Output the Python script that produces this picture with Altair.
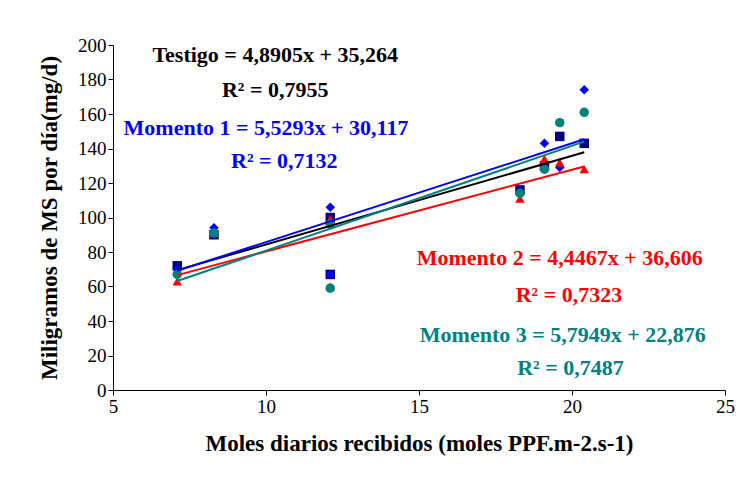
import altair as alt
import pandas as pd

# readings from the figure
x_vals = [7.1, 8.3, 12.1, 12.1, 18.3, 19.1, 19.6, 20.4]
testigo = [72, 90, 100, 67, 116, 130, 147, 143]
momento1 = [70, 94, 106, 67, 115, 143, 129, 174]
momento2 = [63, 91, 99, 60, 111, 134, 132, 128]
momento3 = [67, 91, 96, 59, 114, 128, 155, 161]

series = ['Testigo', 'Momento 1', 'Momento 2', 'Momento 3']
colors = ['#000080', '#0000FF', '#FF0000', '#008080']
line_colors = ['#000000', '#0000FF', '#FF0000', '#008080']
shapes = ['square', 'diamond', 'triangle-up', 'circle']

rows = []
for name, vals in zip(series, [testigo, momento1, momento2, momento3]):
    for x, y in zip(x_vals, vals):
        rows.append({'serie': name, 'x': x, 'y': y})
df = pd.DataFrame(rows)

labels = pd.DataFrame({
    'x': [10.3, 10.3, 10.0, 10.6, 19.6, 19.9, 19.7, 19.95],
    'y': [194, 174, 152, 133, 76.5, 55, 32, 13],
    'txt': ['Testigo  = 4,8905x + 35,264', 'R² = 0,7955',
            'Momento 1 = 5,5293x + 30,117', 'R² = 0,7132',
            'Momento 2 = 4,4467x + 36,606', 'R² = 0,7323',
            'Momento 3 = 5,7949x + 22,876', 'R² = 0,7487'],
    'serie': ['Testigo', 'Testigo', 'Momento 1', 'Momento 1',
              'Momento 2', 'Momento 2', 'Momento 3', 'Momento 3'],
})

xs = alt.X('x:Q', scale=alt.Scale(domain=[5, 25], nice=False, zero=False, padding=0),
           axis=alt.Axis(values=[5, 10, 15, 20, 25], grid=False, tickSize=5,
                         labelOverlap=False, labelFlush=False),
           title='Moles diarios recibidos (moles PPF.m-2.s-1)')
ys = alt.Y('y:Q', scale=alt.Scale(domain=[0, 200], nice=False, padding=0),
           axis=alt.Axis(values=list(range(0, 201, 20)), grid=False, tickSize=5,
                         labelOverlap=False, labelFlush=False),
           title='Miligramos de MS  por día(mg/d)')

pts = alt.Chart(df).mark_point(filled=True, size=90, opacity=1).encode(
    x=xs, y=ys,
    color=alt.Color('serie:N', scale=alt.Scale(domain=series, range=colors), legend=None),
    shape=alt.Shape('serie:N', scale=alt.Scale(domain=series, range=shapes), legend=None),
)

lines = alt.Chart(df).transform_regression(
    'x', 'y', groupby=['serie']
).mark_line(strokeWidth=2).encode(
    x=xs, y=ys,
    color=alt.Color('serie:N', scale=alt.Scale(domain=series, range=line_colors), legend=None),
)

text = alt.Chart(labels).mark_text(font='Liberation Serif', fontSize=22, fontWeight='bold').encode(
    x=xs, y=ys, text='txt:N',
    color=alt.Color('serie:N', scale=alt.Scale(domain=series, range=line_colors), legend=None),
)

chart = alt.layer(pts, lines, text).resolve_scale(color='independent').properties(
    width=612, height=345,
    autosize=alt.AutoSizeParams(type='none'),
    padding={'left': 105, 'top': 37, 'right': 10, 'bottom': 90},
).configure_view(stroke=None).configure_axis(
    labelFont='Liberation Serif', titleFont='Liberation Serif',
    labelFontSize=19, titleFontSize=23, titleFontWeight='bold',
    labelColor='black', titleColor='black', domainColor='black', tickColor='black',
    titlePadding=16,
)

chart.save('out.html', embed_options={'renderer': 'svg', 'actions': False})
